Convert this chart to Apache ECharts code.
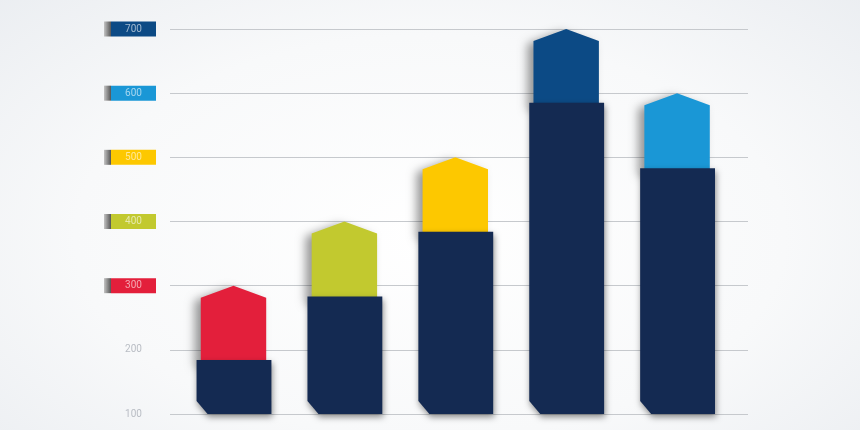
<!DOCTYPE html>
<html>
<head>
<meta charset="utf-8">
<style>
  html, body { margin: 0; padding: 0; }
  body {
    width: 860px; height: 430px; overflow: hidden;
    background: radial-gradient(ellipse 75% 85% at 50% 55%, #ffffff 0%, #f8f9fa 55%, #e9ecf0 100%);
  }
  #chart { width: 860px; height: 430px; }
</style>
<script src="https://cdn.jsdelivr.net/npm/echarts@6/dist/echarts.min.js"></script>
</head>
<body>
<div id="chart"></div>
<script>
// ---- data ----
var categories = ['1', '2', '3', '4', '5'];
var baseValues = [184, 283, 384, 585, 483];   // dark navy columns
var topValues  = [300, 400, 500, 700, 600];   // coloured arrow tips
var yTicks     = [100, 200, 300, 400, 500, 600, 700];

// ---- styles ----
var arrowColors = ['#e31f3b', '#c2c92f', '#fdc800', '#0c4a85', '#1a97d6'];
var badgeColors = { 300: '#e31f3b', 400: '#c2c92f', 500: '#fdc800', 600: '#1a97d6', 700: '#0c4a85' };
var navy = '#142a52';

var chart = echarts.init(document.getElementById('chart'), null, { renderer: 'canvas' });

var rich = {
  g: {
    width: 7, height: 15, fontSize: 1,
    backgroundColor: new echarts.graphic.LinearGradient(0, 0, 1, 0, [
      { offset: 0, color: '#c4c4c4' }, { offset: 1, color: '#555555' }
    ])
  },
  p: { width: 45, height: 15, align: 'center', color: '#b9bdc4', fontSize: 10, fontFamily: '"Liberation Sans Narrow", Roboto, sans-serif' }
};
Object.keys(badgeColors).forEach(function (k) {
  rich['c' + k] = {
    width: 45, height: 15, align: 'center', backgroundColor: badgeColors[k],
    color: 'rgba(255,255,255,0.6)', fontSize: 10, fontFamily: '"Liberation Sans Narrow", Roboto, sans-serif'
  };
});

var data = categories.map(function (c, i) { return [i, baseValues[i], topValues[i]]; });

function renderItem(params, api) {
  var i = api.value(0);
  var base = api.value(1);
  var top = api.value(2);
  var band = api.size([1, 0])[0];
  var pBase = api.coord([i, base]);
  var pTop = api.coord([i, top]);
  var pBottom = api.coord([i, 100]);
  var cx = pBase[0];
  var darkW = band * 0.675;
  var arrW = band * 0.59;
  var tip = 12;
  var ax0 = cx - 0.5 - arrW / 2, ax1 = cx - 0.5 + arrW / 2, acx = cx - 0.5;
  var arrow = {
    type: 'polygon',
    shape: { points: [
      [ax0, pBase[1] + 4], [ax0, pTop[1] + tip], [acx, pTop[1]],
      [ax1, pTop[1] + tip], [ax1, pBase[1] + 4]
    ] },
    style: {
      fill: arrowColors[i],
      shadowBlur: 10, shadowOffsetX: -6, shadowOffsetY: 3, shadowColor: 'rgba(0,0,0,0.4)'
    }
  };
  var dx0 = cx - darkW / 2, dx1 = cx + darkW / 2, yb = pBottom[1];
  var dark = {
    type: 'polygon',
    shape: { points: [
      [dx0, pBase[1]], [dx1, pBase[1]], [dx1, yb], [dx0 + 11, yb], [dx0, yb - 13]
    ] },
    style: {
      fill: navy,
      shadowBlur: 6, shadowOffsetX: 1, shadowOffsetY: 3, shadowColor: 'rgba(0,0,0,0.45)'
    }
  };
  return { type: 'group', children: [arrow, dark] };
}

chart.setOption({
  backgroundColor: 'transparent',
  animation: false,
  grid: { left: 170, right: 112, top: 29, bottom: 16 },
  xAxis: {
    type: 'value', min: -0.577, max: 4.635,
    show: false, splitLine: { show: false }
  },
  yAxis: {
    type: 'value', min: 100, max: 700, interval: 100,
    axisLine: { show: false }, axisTick: { show: false },
    splitLine: { show: true, lineStyle: { color: '#c6c9cd', width: 1 } },
    axisLabel: {
      margin: 14,
      formatter: function (v) {
        if (badgeColors[v]) return '{g| }{c' + v + '|' + v + '}';
        return '{p|' + v + '}';
      },
      rich: rich
    }
  },
  series: [{
    type: 'custom',
    renderItem: renderItem,
    encode: { x: 0, y: [1, 2] },
    data: data,
    clip: false
  }]
});
</script>
</body>
</html>
